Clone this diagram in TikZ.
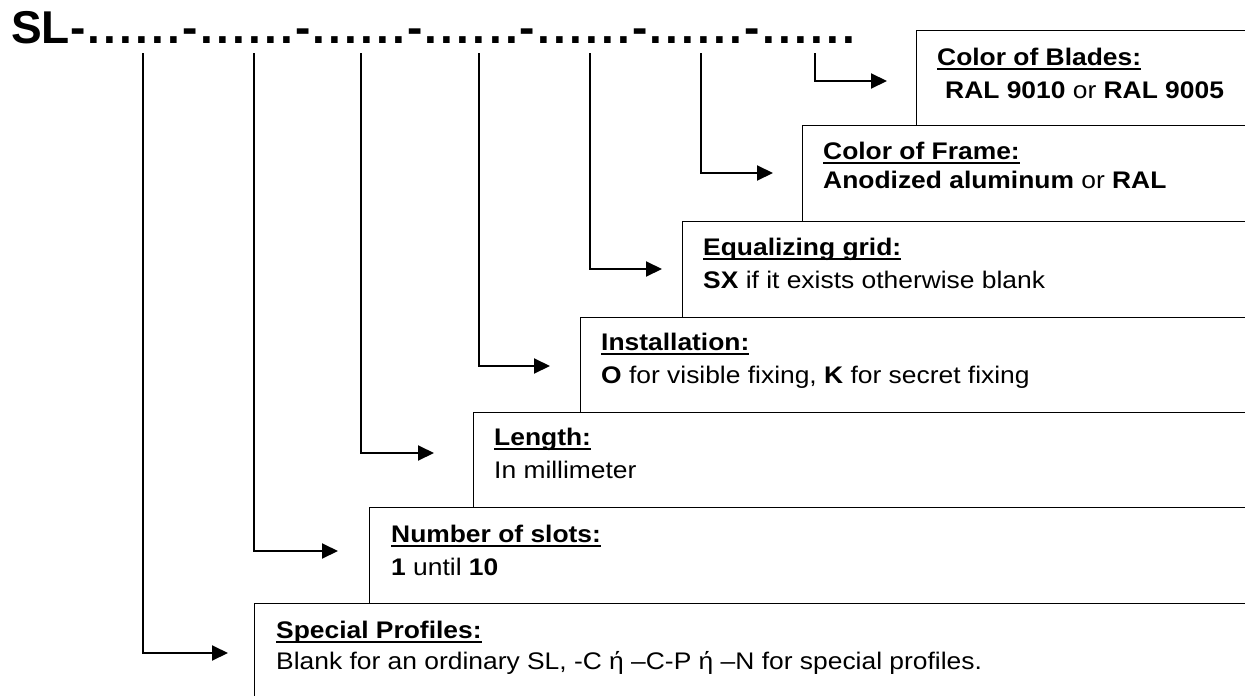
\documentclass[tikz,border=0pt]{standalone}
\usepackage{fontspec}
\setmainfont{Liberation Sans}[FakeStretch=1.1]
\newfontfamily\titlefont{Liberation Sans}
\usetikzlibrary{arrows.meta}
\newsavebox\ulbox
\newcommand\ulb[1]{\sbox\ulbox{\bfseries #1}\rlap{\rule[-5.3pt]{\wd\ulbox}{1.9pt}}\usebox\ulbox}
\newcommand\tcell[1]{\makebox[16.05pt][c]{#1}}
\newcommand\tgrp{\tcell{-}\tcell{.}\tcell{.}\tcell{.}\tcell{.}\tcell{.}\tcell{.}}
\tikzset{
  box/.style={draw=black, line width=1.3pt, anchor=north west, inner sep=0pt},
  conn/.style={draw=black, line width=2pt, -{Triangle[length=16pt,width=15pt]}},
  txt/.style={anchor=base west, inner sep=0pt, font=\fontsize{24pt}{28pt}\selectfont},
}
\begin{document}
\begin{tikzpicture}[x=1pt,y=-1pt]
\useasboundingbox (0,0) rectangle (1245,696);
% title
\node[anchor=base west, inner sep=0pt, font=\titlefont\bfseries\fontsize{46pt}{50pt}\selectfont] (title) at (11,43)
  {SL\tgrp\tgrp\tgrp\tgrp\tgrp\tgrp\tgrp};
% boxes
\node[box, minimum width=360pt, minimum height=95pt] (bl) at (916,30) {};
\node[box, minimum width=470pt, minimum height=96pt] (fr) at (802,125) {};
\node[box, minimum width=590pt, minimum height=96pt] (eq) at (682,221) {};
\node[box, minimum width=690pt, minimum height=95pt] (in) at (580,317) {};
\node[box, minimum width=800pt, minimum height=95pt] (le) at (473,412) {};
\node[box, minimum width=900pt, minimum height=96pt] (sl) at (369,507) {};
\node[box, minimum width=1010pt, minimum height=110pt] (sp) at (254,603) {};
% texts
\node[txt] (blt) at (937,65) {\ulb{Color of Blades:}};
\node[txt] (bld) at (945,98) {\textbf{RAL 9010} or \textbf{RAL 9005}};
\node[txt] (frt) at (823,159) {\ulb{Color of Frame:}};
\node[txt] (frd) at (823,188) {\textbf{Anodized aluminum} or \textbf{RAL}};
\node[txt] (eqt) at (703,255) {\ulb{Equalizing grid:}};
\node[txt] (eqd) at (703,288) {\textbf{SX} if it exists otherwise blank};
\node[txt] (int) at (601,350) {\ulb{Installation:}};
\node[txt] (ind) at (601,383) {\textbf{O} for visible fixing, \textbf{K} for secret fixing};
\node[txt] (let) at (494,445) {\ulb{Length:}};
\node[txt] (led) at (494,478) {In millimeter};
\node[txt] (slt) at (391,542) {\ulb{Number of slots:}};
\node[txt] (sld) at (391,575) {\textbf{1} until \textbf{10}};
\node[txt] (spt) at (276,638) {\ulb{Special Profiles:}};
\node[txt] (spd) at (276,669) {Blank for an ordinary SL, -C ή –C-P ή –N for special profiles.};
% connector coordinates
\coordinate (s1) at (143,53); \coordinate (e1) at (228,653);
\coordinate (s2) at (254,53); \coordinate (e2) at (338,551);
\coordinate (s3) at (361,53); \coordinate (e3) at (434,453);
\coordinate (s4) at (479,53); \coordinate (e4) at (550,366);
\coordinate (s5) at (590,53); \coordinate (e5) at (662,269);
\coordinate (s6) at (701,53); \coordinate (e6) at (773,173);
\coordinate (s7) at (815,53); \coordinate (e7) at (887,81);
\foreach \i in {1,...,7} { \draw[conn] (s\i) |- (e\i); }
\end{tikzpicture}
\end{document}
